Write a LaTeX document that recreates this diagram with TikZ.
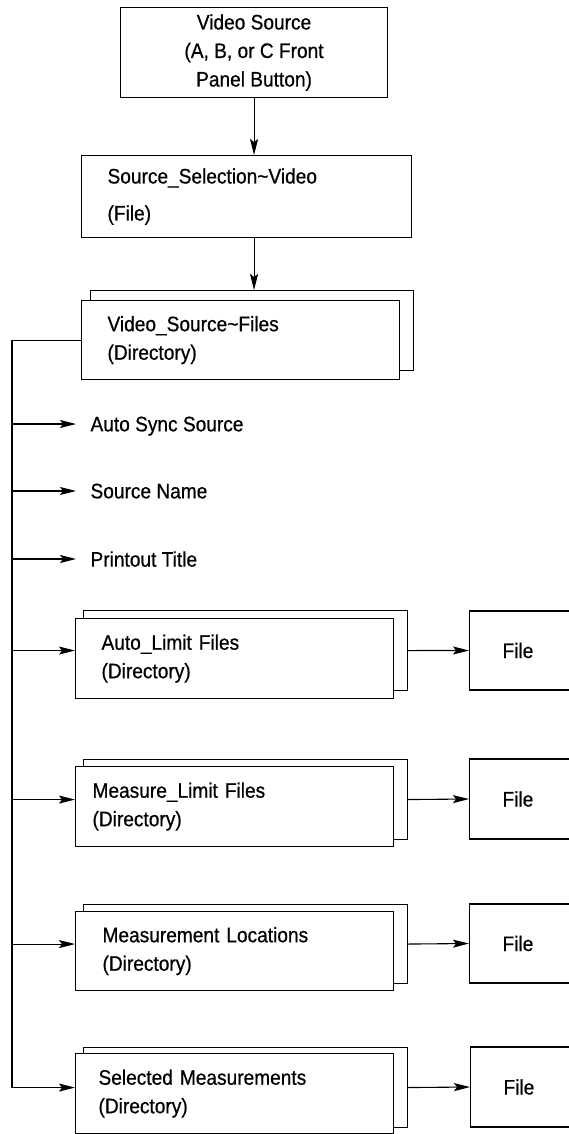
\documentclass[tikz,border=0pt]{standalone}
\usepackage{fontspec}
\setmainfont[FakeStretch=0.91,FakeBold=0.6]{Liberation Sans}
\usetikzlibrary{arrows.meta}

\begin{document}
\begin{tikzpicture}[x=1pt,y=-1pt,line width=1.1pt,
  font=\fontsize{21}{28.5}\selectfont,
  arr/.style={-{Stealth[length=16pt,width=8pt,inset=3pt]}},
  backbox/.style={draw,anchor=north west,inner sep=0pt,minimum width=324pt,minimum height=80pt},
  dirbox/.style={draw,fill=white,anchor=north west,align=left,inner ysep=0pt,minimum width=318pt,minimum height=80pt},
  filebox/.style={draw,anchor=west,align=left,text width=65pt,inner xsep=33pt,inner ysep=0pt,minimum height=80pt},
  item/.style={anchor=west,inner xsep=14pt,text depth=0pt}]
\useasboundingbox (0,0) rectangle (569,1134);
\clip (0,0) rectangle (569,1134);

% top of the tree
\node[draw,align=center,anchor=north west,minimum width=267pt,minimum height=90pt] (vsrc) at (120,7) {Video Source\\(A, B, or C Front\\Panel Button)};
\node[dirbox,minimum width=330pt,minimum height=82pt,inner xsep=26pt,text width=278pt] (srcsel) at (81,155) {Source\_Selection\textasciitilde Video\\[8.5pt](File)};
\node[backbox,minimum width=323pt] (bkvsf) at (90,290) {};
\node[dirbox,minimum height=79pt,inner xsep=26pt,text width=266pt] (vsf) at (81,300) {Video\_Source\textasciitilde Files\\(Directory)};
\draw[arr] (vsrc.south) -- (vsrc.south |- srcsel.north);
\draw[arr] (vsrc.south |- srcsel.south) -- (vsrc.south |- bkvsf.north);

% entries
\coordinate (bus) at (12,337);
\node[item] (asyn) at (76,424) {Auto Sync Source};
\node[item] (sname) at (76,491) {Source Name};
\node[item] (ptitle) at (76,559) {Printout Title};

\node[backbox] (bkalim) at (83,610) {};
\node[dirbox,inner xsep=26pt,text width=266pt] (alim) at (75,618) {Auto\_Limit Files\\(Directory)};
\node[filebox,minimum height=79pt] (falim) at (469,650.5) {File};

\node[backbox] (bkmlim) at (83,759) {};
\node[dirbox,inner xsep=17pt,text width=284pt] (mlim) at (75,766) {Measure\_Limit Files\\(Directory)};
\node[filebox] (fmlim) at (469,799) {File};

\node[backbox,minimum height=79pt] (bkmloc) at (83,904) {};
\node[dirbox,minimum height=79pt,inner xsep=27pt,text width=264pt] (mloc) at (75,911) {Measurement Locations\\(Directory)};
\node[filebox,minimum height=79pt] (fmloc) at (469,943.5) {File};

\node[backbox] (bksmeas) at (83,1047) {};
\node[dirbox,inner xsep=23pt,text width=272pt] (smeas) at (75,1053) {Selected Measurements\\(Directory)};
\node[filebox] (fsmeas) at (470,1087) {File};

\draw (vsf.west) -- (vsf.west -| bus) -- (bksmeas.center -| bus);
\foreach \n in {asyn,sname,ptitle}
  \draw[arr] (\n.west -| bus) -- (\n.west);
\foreach \n in {alim,mlim,mloc,smeas} {
  \draw[arr] (bk\n.center -| bus) -- (bk\n.center -| \n.west);
  \draw[arr] (bk\n.east) -- (f\n.west);
}
\end{tikzpicture}
\end{document}
